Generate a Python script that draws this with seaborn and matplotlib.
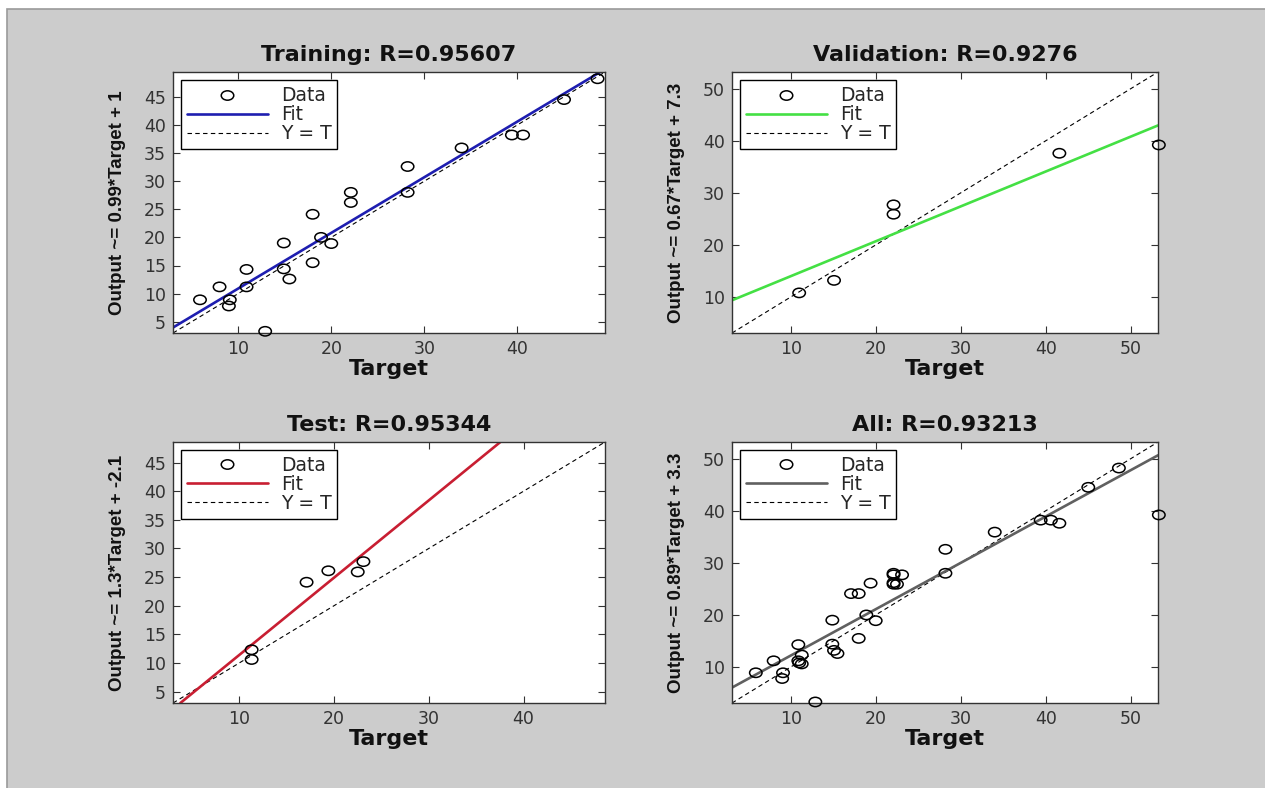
import numpy as np
import seaborn as sns
import matplotlib.pyplot as plt
from matplotlib.lines import Line2D
from matplotlib.patches import Rectangle
from matplotlib.path import Path
from matplotlib.transforms import Affine2D

# regression data
train_t = [48.6, 45.0, 39.4, 40.6, 34.0, 28.2, 28.2, 22.1, 22.1, 18.0, 18.9, 20.0,
           14.9, 18.0, 14.9, 15.5, 10.9, 10.9, 8.0, 5.9, 9.1, 9.0, 12.9]
train_o = [48.2, 44.5, 38.2, 38.2, 35.9, 32.6, 28.0, 28.0, 26.2, 24.1, 20.0, 18.9,
           19.0, 15.5, 14.4, 12.6, 14.3, 11.2, 11.2, 8.9, 8.9, 7.8, 3.3]
val_t = [11.0, 15.1, 22.1, 22.1, 41.6, 53.3]
val_o = [10.8, 13.2, 27.7, 25.9, 37.6, 39.2]
test_t = [11.3, 11.3, 17.1, 19.4, 22.5, 23.1]
test_o = [12.3, 10.6, 24.1, 26.1, 25.9, 27.7]
all_t = train_t + val_t + test_t
all_o = train_o + val_o + test_o

titles = ['Training: R=0.95607', 'Validation: R=0.9276', 'Test: R=0.95344', 'All: R=0.93213']
ylabels = ['Output ~= 0.99*Target + 1', 'Output ~= 0.67*Target + 7.3',
           'Output ~= 1.3*Target + -2.1', 'Output ~= 0.89*Target + 3.3']
fit_slope = [0.99, 0.67, 1.35, 0.89]
fit_icpt = [1.0, 7.3, -2.1, 3.3]
fit_colors = ['#1e1eb0', '#44e044', '#c81e32', '#606060']
limits = [(3.0, 49.4), (3.1, 53.2), (3.0, 48.6), (3.1, 53.2)]
yticks = [range(5, 50, 5), range(10, 60, 10), range(5, 50, 5), range(10, 60, 10)]
xticks = [range(10, 50, 10), range(10, 60, 10), range(10, 50, 10), range(10, 60, 10)]

sns.set_style('ticks')
plt.rcParams['font.family'] = ['DejaVu Sans']

# open circles look slightly flattened in the original
oval = Path.unit_circle().transformed(Affine2D().scale(1.0, 0.75))

fig = plt.figure(figsize=(12.65, 7.88), dpi=100, facecolor='white')
bg = Rectangle((7.5 / 1265, -0.05), 1.1, 1.05 - 8.5 / 788, transform=fig.transFigure,
               facecolor='#cccccc', edgecolor='#9a9a9a', linewidth=1.2, zorder=-10)
fig.patches.append(bg)

boxes = [(173, 72), (732, 72), (173, 442), (732, 442)]
widths = [432, 426, 432, 426]
sets = [(train_t, train_o), (val_t, val_o), (test_t, test_o), (all_t, all_o)]

for i in range(4):
    x0, y0 = boxes[i]
    ax = fig.add_axes([x0 / 1265, 1 - (y0 + 261) / 788, widths[i] / 1265, 261 / 788])
    ax.set_facecolor('white')
    t, o = sets[i]
    lo, hi = limits[i]
    ax.set_xlim(lo, hi)
    ax.set_ylim(lo, hi)
    ax.axline((0, fit_icpt[i]), slope=fit_slope[i], color=fit_colors[i], lw=1.9, zorder=2)
    ax.axline((0, 0), slope=1, color='black', lw=0.8, ls=(0, (4, 3)), zorder=1)
    sns.scatterplot(x=t, y=o, ax=ax, marker=oval, s=80, facecolor='none',
                    edgecolor='black', linewidth=1.1, zorder=3, clip_on=False)
    ax.set_xticks(list(xticks[i]))
    ax.set_yticks(list(yticks[i]))
    ax.tick_params(direction='in', top=True, right=True, length=5, width=0.8,
                   labelsize=12.5, labelcolor='#333333', color='#333333', pad=5)
    for sp in ax.spines.values():
        sp.set_linewidth(1.0)
        sp.set_color('#333333')
    ax.set_title(titles[i], fontsize=16, fontweight='bold', pad=8, color='#111111')
    ax.set_xlabel('Target', fontsize=16, fontweight='bold', labelpad=1, color='#111111')
    ax.set_ylabel(ylabels[i], fontsize=13.5, fontweight='bold', labelpad=13,
                  family=['Liberation Sans Narrow', 'Liberation Sans'], color='#111111')
    handles = [Line2D([], [], marker=oval, ls='none', mfc='none', mec='black', ms=9, mew=1.1),
               Line2D([], [], color=fit_colors[i], lw=1.9),
               Line2D([], [], color='black', lw=0.8, ls=(0, (4, 3)))]
    leg = ax.legend(handles, ['Data', 'Fit', 'Y = T'], loc='upper left', fontsize=13.5,
                    frameon=True, fancybox=False, borderaxespad=0.45, handlelength=4.3,
                    labelspacing=0.0, borderpad=0.3, handletextpad=0.7)
    leg.get_frame().set_edgecolor('black')
    leg.get_frame().set_linewidth(1.0)
    leg.get_frame().set_alpha(1)

fig.savefig('out.png', dpi=100, facecolor=fig.get_facecolor())
